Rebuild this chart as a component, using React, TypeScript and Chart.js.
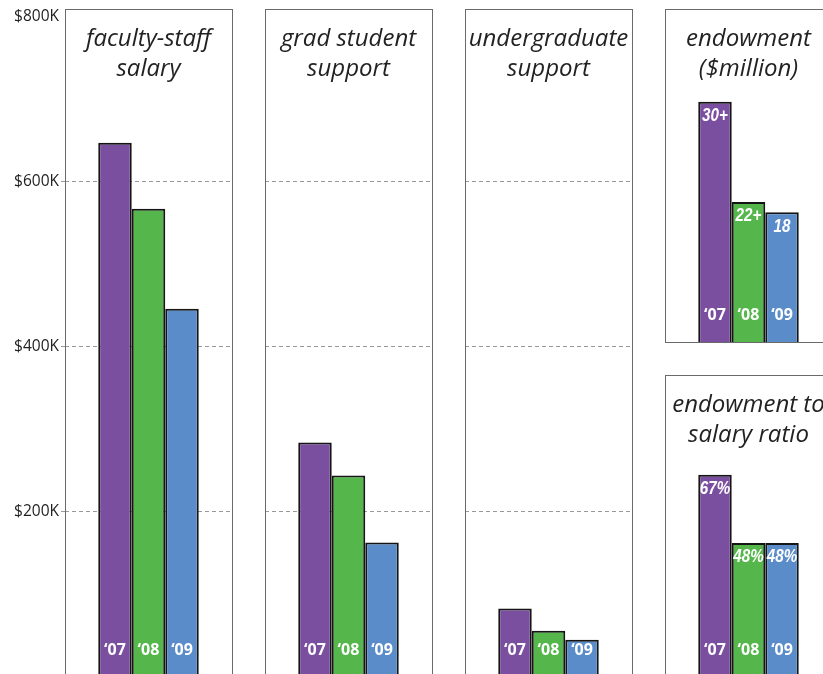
import React, { useEffect, useRef } from 'react';
import { Chart, registerables } from 'chart.js';

Chart.register(...registerables);

// ---- data ----
const years = ['\u201807', '\u201808', '\u201809'];
const barColors = ['#7b4f9f', '#55b74b', '#5a8cca'];
const salaryValues = [647, 567, 446]; // $K
const gradSupportValues = [284, 244, 163]; // $K
const undergradSupportValues = [83, 56, 45]; // $K
const endowmentValues = [30, 17.5, 16.2]; // bar heights as drawn ($million)
const endowmentLabels = ['30+', '22+', '18'];
const ratioValues = [67, 44.4, 44.4]; // bar heights as drawn (%)
const ratioLabels = ['67%', '48%', '48%'];
const salaryTicks = [200, 400, 600, 800]; // $K

type PanelSpec = {
  id: string;
  titleLines: string[];
  values: number[];
  valueLabels?: string[];
  yMax: number;
  boxLeft: number;
  boxTop: number;
  boxRight: number;
  boxBottom: number;
  axis: boolean;
  grid: boolean;
};

const panels: PanelSpec[] = [
  { id: 'p1', titleLines: ['faculty-staff', 'salary'], values: salaryValues, yMax: 809, boxLeft: 65, boxTop: 9, boxRight: 232, boxBottom: 677, axis: true, grid: true },
  { id: 'p2', titleLines: ['grad student', 'support'], values: gradSupportValues, yMax: 809, boxLeft: 265, boxTop: 9, boxRight: 432, boxBottom: 677, axis: false, grid: true },
  { id: 'p3', titleLines: ['undergraduate', 'support'], values: undergradSupportValues, yMax: 809, boxLeft: 465, boxTop: 9, boxRight: 632, boxBottom: 677, axis: false, grid: true },
  { id: 'p4', titleLines: ['endowment', '($million)'], values: endowmentValues, valueLabels: endowmentLabels, yMax: 41.6, boxLeft: 665, boxTop: 9, boxRight: 832, boxBottom: 342, axis: false, grid: false },
  { id: 'p5', titleLines: ['endowment to', 'salary ratio'], values: ratioValues, valueLabels: ratioLabels, yMax: 100, boxLeft: 665, boxTop: 375, boxRight: 832, boxBottom: 677, axis: false, grid: false },
];

const GRID_COLOR = '#9a9a9a';
const TRANSPARENT = 'rgba(0,0,0,0)';

function decorPlugin(spec: PanelSpec) {
  return {
    id: 'decor_' + spec.id,
    afterDatasetsDraw(chart: any) {
      const { ctx, chartArea } = chart;
      const { left, right, top, bottom } = chartArea;
      ctx.save();
      // frame
      ctx.strokeStyle = '#6a6a6a';
      ctx.lineWidth = 1;
      ctx.setLineDash([]);
      ctx.strokeRect(Math.round(left) + 0.5, Math.round(top) + 0.5, Math.round(right - left), Math.round(bottom - top));
      // title
      ctx.fillStyle = '#222';
      ctx.font = 'italic 24px "Open Sans", sans-serif';
      ctx.textAlign = 'center';
      ctx.textBaseline = 'alphabetic';
      const cx = (left + right) / 2;
      spec.titleLines.forEach((t, i) => ctx.fillText(t, cx, top + 37 + i * 30));
      // bar labels
      chart.data.datasets.forEach((_ds: any, i: number) => {
        const el = chart.getDatasetMeta(i).data[0];
        const p = el.getProps(['x', 'y', 'base'], true);
        ctx.fillStyle = '#ffffff';
        ctx.textBaseline = 'middle';
        ctx.textAlign = 'center';
        ctx.font = 'bold 16px "Open Sans", sans-serif';
        ctx.fillText(years[i], p.x, p.base - 26.5);
        if (spec.valueLabels) {
          ctx.save();
          ctx.translate(p.x, p.y + 14);
          ctx.scale(0.8, 1);
          ctx.font = 'italic bold 19px "Liberation Sans", Arial, sans-serif';
          ctx.fillText(spec.valueLabels[i], 0, 0);
          ctx.restore();
        }
      });
      ctx.restore();
    },
  };
}

function Panel({ spec }: { spec: PanelSpec }) {
  const ref = useRef<HTMLCanvasElement>(null);
  const axisW = spec.axis ? spec.boxLeft : 0;
  const canvasLeft = spec.boxLeft - axisW;
  const width = spec.boxRight - spec.boxLeft + axisW + 2;
  const height = spec.boxBottom + 2;

  useEffect(() => {
    if (!ref.current) return;
    const gridColor = (c: any) => {
      const v = c.tick ? c.tick.value : 0;
      return v === 0 || v >= 800 ? TRANSPARENT : GRID_COLOR;
    };
    const chart = new Chart(ref.current, {
      type: 'bar',
      data: {
        labels: [''],
        datasets: years.map((y, i) => ({
          label: y,
          data: [spec.values[i]],
          backgroundColor: barColors[i],
          borderColor: '#151515',
          borderWidth: 2,
          borderSkipped: 'bottom',
          categoryPercentage: 0.602,
          barPercentage: 1,
        })),
      },
      options: {
        responsive: false,
        animation: false,
        events: [],
        layout: { padding: { top: spec.boxTop, bottom: 2, right: 2, left: 0 } },
        plugins: { legend: { display: false }, tooltip: { enabled: false }, title: { display: false } },
        scales: {
          x: { display: false },
          y: {
            display: true,
            min: 0,
            max: spec.yMax,
            afterFit: (s: any) => {
              s.width = axisW;
              s.paddingTop = 0;
              s.paddingBottom = 0;
            },
            afterBuildTicks: (s: any) => {
              if (spec.grid) s.ticks = [0, ...salaryTicks].map((v) => ({ value: v }));
            },
            ticks: {
              display: spec.axis,
              includeBounds: false,
              stepSize: 200,
              padding: 2,
              color: '#1e1e1e',
              font: { family: '"Open Sans", sans-serif', size: 15.5 },
              callback: (v: any) => (Number(v) === 0 ? '' : '$' + v + 'K'),
            },
            grid: {
              display: spec.grid,
              color: gridColor,
              tickColor: gridColor,
              drawTicks: spec.axis,
              tickLength: 4,
              lineWidth: 1,
              tickBorderDash: [4, 3],
            },
            border: { display: false, dash: [4, 3] },
          },
        },
      } as any,
      plugins: [decorPlugin(spec)],
    });
    return () => chart.destroy();
  }, []);

  return (
    <canvas
      ref={ref}
      width={width}
      height={height}
      style={{ position: 'absolute', left: canvasLeft, top: 0, width, height }}
    />
  );
}

export default function App() {
  return (
    <div
      style={{
        position: 'fixed',
        left: 0,
        top: 0,
        width: 823,
        height: 674,
        overflow: 'hidden',
        background: '#ffffff',
      }}
    >
      {panels.map((p) => (
        <Panel key={p.id} spec={p} />
      ))}
    </div>
  );
}
